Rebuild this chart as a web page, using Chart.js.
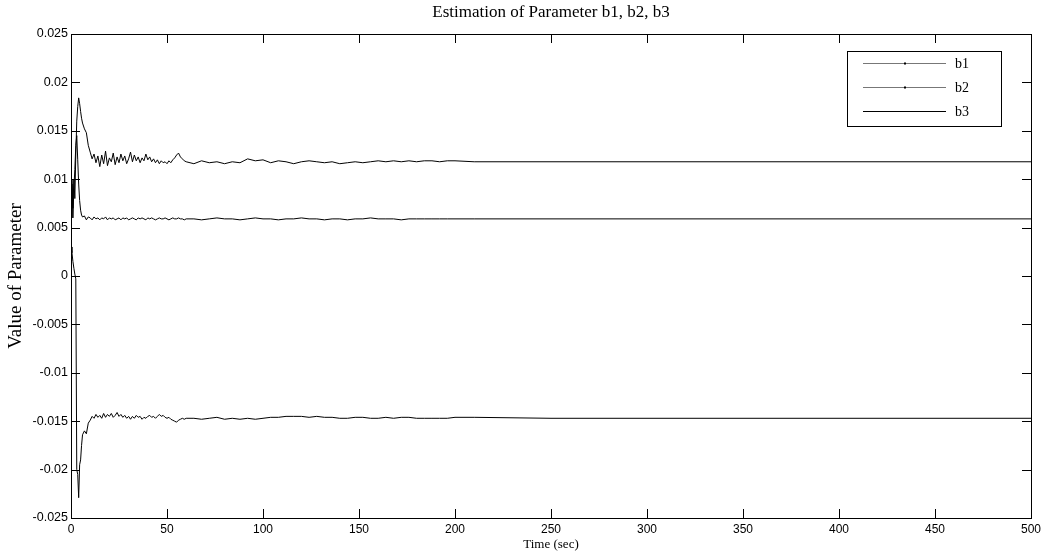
<!DOCTYPE html>
<html>
<head>
<meta charset="utf-8">
<script src="https://cdn.jsdelivr.net/npm/chart.js@4.4.1/dist/chart.umd.min.js"></script>
<style>
html, body { margin: 0; padding: 0; background: #fff; }
#wrap { width: 1041px; height: 552px; }
</style>
</head>
<body>
<div id="wrap"><canvas id="paramChart"></canvas></div>
<script>
// time axis (seconds), dense at the start where the estimates jump around
const timeSec = [
    0, 0.5, 1, 1.5, 2, 2.5, 3, 3.5, 4, 4.5, 5, 5.5, 6, 7, 8, 9,
    10, 11, 12, 13, 14, 15, 16, 17, 18, 19, 20, 21, 22, 23, 24, 25, 26, 27, 28, 29, 30, 31, 32, 33, 34, 35,
    36, 37, 38, 39, 40, 41, 42, 43, 44, 45, 46, 47, 48, 49, 50, 51, 52, 53, 54, 55, 56, 57, 58, 59, 60,
    64, 68, 72, 76, 80, 84, 88, 92, 96, 100, 104, 108, 112, 116, 120, 124, 128, 132,
    136, 140, 144, 148, 152, 156, 160, 164, 168, 172, 176, 180, 184, 188, 192, 196, 200,
    210, 250, 300, 350, 400, 450, 500
];

const b1Values = [
    0.0060, 0.0095, 0.0070, 0.0100, 0.0080, 0.0125, 0.0160, 0.0175, 0.0184, 0.0178, 0.0170, 0.0163, 0.0158, 0.0152, 0.0148, 0.0135,
    0.0128, 0.0121, 0.0126, 0.0117, 0.0124, 0.0113, 0.0125, 0.0116, 0.0129, 0.0114, 0.0122, 0.0118, 0.0127, 0.0115, 0.0123, 0.0117, 0.0126, 0.0119, 0.0124, 0.0116, 0.0121, 0.0128, 0.0118, 0.0125, 0.0119, 0.0123,
    0.0117, 0.0122, 0.0119, 0.0126, 0.0120, 0.0123, 0.0118, 0.0121, 0.0117, 0.0120, 0.0116, 0.0119, 0.0117, 0.0118, 0.0116, 0.0119, 0.0117, 0.0120, 0.0122, 0.0125, 0.0127, 0.0123, 0.0121, 0.0119, 0.0118,
    0.0116, 0.0119, 0.0117, 0.0118, 0.0116, 0.0118, 0.0117, 0.0121, 0.0119, 0.0120, 0.0117, 0.0119, 0.0118, 0.0116, 0.0118, 0.0119, 0.0118, 0.0117,
    0.0118, 0.0116, 0.0117, 0.0118, 0.0117, 0.0118, 0.0119, 0.0118, 0.0119, 0.0118, 0.0119, 0.0118, 0.0119, 0.0119, 0.0118, 0.0119, 0.0119,
    0.0118, 0.0118, 0.0118, 0.0118, 0.0118, 0.0118, 0.0118
];

const b2Values = [
    0.0070, 0.0100, 0.0060, 0.0090, 0.0110, 0.0135, 0.0145, 0.0120, 0.0095, 0.0078, 0.0068, 0.0063, 0.0061, 0.0062, 0.0058, 0.0061,
    0.0060, 0.0058, 0.0061, 0.0059, 0.0060, 0.0058, 0.0060, 0.0059, 0.0061, 0.0058, 0.0060, 0.0059, 0.0060, 0.0058, 0.0059, 0.0060, 0.0058, 0.0060, 0.0059, 0.0060, 0.0058, 0.0059, 0.0060, 0.0059, 0.0058, 0.0060,
    0.0059, 0.0060, 0.0059, 0.0058, 0.0060, 0.0059, 0.0060, 0.0059, 0.0058, 0.0059, 0.0060, 0.0059, 0.0059, 0.0060, 0.0059, 0.0058, 0.0059, 0.0060, 0.0059, 0.0059, 0.0060, 0.0059, 0.0059, 0.0058, 0.0059,
    0.0059, 0.0058, 0.0059, 0.0060, 0.0059, 0.0059, 0.0058, 0.0059, 0.0060, 0.0059, 0.0059, 0.0058, 0.0059, 0.0059, 0.0060, 0.0059, 0.0059, 0.0058,
    0.0059, 0.0059, 0.0058, 0.0059, 0.0059, 0.0060, 0.0059, 0.0059, 0.0059, 0.0058, 0.0059, 0.0059, 0.0059, 0.0059, 0.0059, 0.0059, 0.0059,
    0.0059, 0.0059, 0.0059, 0.0059, 0.0059, 0.0059, 0.0059
];

const b3Values = [
    0.0030, 0.0024, 0.0015, 0.0008, 0.0002, -0.0003, -0.0200, -0.0205, -0.0229, -0.0195, -0.0190, -0.0175, -0.0164, -0.0160, -0.0163, -0.0152,
    -0.0149, -0.0145, -0.0147, -0.0143, -0.0146, -0.0144, -0.0147, -0.0142, -0.0146, -0.0143, -0.0145, -0.0142, -0.0146, -0.0144, -0.0141, -0.0145, -0.0143, -0.0146, -0.0144, -0.0147, -0.0145, -0.0148, -0.0145, -0.0147, -0.0144, -0.0146,
    -0.0145, -0.0148, -0.0146, -0.0147, -0.0145, -0.0144, -0.0146, -0.0145, -0.0147, -0.0145, -0.0143, -0.0145, -0.0144, -0.0146, -0.0147, -0.0146, -0.0148, -0.0149, -0.0150, -0.0151, -0.0149, -0.0148, -0.0147, -0.0148, -0.0147,
    -0.0147, -0.0148, -0.0147, -0.0146, -0.0148, -0.0147, -0.0148, -0.0147, -0.0148, -0.0147, -0.0146, -0.0146, -0.0145, -0.0145, -0.0145, -0.0146, -0.0145, -0.0146,
    -0.0146, -0.0147, -0.0147, -0.0146, -0.0146, -0.0147, -0.0147, -0.0146, -0.0147, -0.0146, -0.0146, -0.0147, -0.0147, -0.0147, -0.0147, -0.0147, -0.0146,
    -0.0146, -0.0147, -0.0147, -0.0147, -0.0147, -0.0147, -0.0147
];

const seriesNames = ["b1", "b2", "b3"];
const legendMarkers = [true, true, false];

const xMin = 0, xMax = 500, xStep = 50;
const yMin = -0.025, yMax = 0.025, yStep = 0.005;

const serif = "'Liberation Serif', 'Times New Roman', serif";
const sans = "'Liberation Sans', Arial, sans-serif";

function toPoints(values) {
    return timeSec.map((t, i) => ({ x: t, y: values[i] }));
}

// box round the plot with MATLAB style ticks pointing inward
const boxTicks = {
    id: "boxTicks",
    afterDraw(chart) {
        const { ctx, chartArea: a, scales } = chart;
        const len = 9;
        ctx.save();
        ctx.strokeStyle = "#000";
        ctx.lineWidth = 1;
        ctx.beginPath();
        scales.x.ticks.forEach(t => {
            const px = Math.round(scales.x.getPixelForValue(t.value)) + 0.5;
            ctx.moveTo(px, a.bottom); ctx.lineTo(px, a.bottom - len);
            ctx.moveTo(px, a.top); ctx.lineTo(px, a.top + len);
        });
        scales.y.ticks.forEach(t => {
            const py = Math.round(scales.y.getPixelForValue(t.value)) + 0.5;
            ctx.moveTo(a.left, py); ctx.lineTo(a.left + len, py);
            ctx.moveTo(a.right, py); ctx.lineTo(a.right - len, py);
        });
        ctx.stroke();
        ctx.strokeRect(Math.round(a.left) + 0.5, Math.round(a.top) + 0.5,
            Math.round(a.right - a.left), Math.round(a.bottom - a.top));
        ctx.restore();
    }
};

const boxLegend = {
    id: "boxLegend",
    afterDraw(chart) {
        const ctx = chart.ctx;
        const left = 847, top = 51, w = 154, h = 75;
        ctx.save();
        ctx.fillStyle = "#fff";
        ctx.fillRect(left, top, w, h);
        ctx.strokeStyle = "#000";
        ctx.lineWidth = 1;
        ctx.strokeRect(left + 0.5, top + 0.5, w, h);
        ctx.font = "14px " + serif;
        ctx.textBaseline = "middle";
        chart.data.datasets.forEach((ds, i) => {
            const y = top + 12.5 + i * 24;
            ctx.strokeStyle = legendMarkers[i] ? "#777" : "#000";
            ctx.beginPath();
            ctx.moveTo(left + 16, y);
            ctx.lineTo(left + 99, y);
            ctx.stroke();
            if (legendMarkers[i]) {
                ctx.fillStyle = "#000";
                ctx.fillRect(left + 57, y - 1, 2, 2);
            }
            ctx.fillStyle = "#000";
            ctx.fillText(ds.label, left + 108, y + 1);
        });
        ctx.restore();
    }
};

new Chart(document.getElementById("paramChart"), {
    type: "line",
    data: {
        datasets: [
            { label: seriesNames[0], data: toPoints(b1Values) },
            { label: seriesNames[1], data: toPoints(b2Values) },
            { label: seriesNames[2], data: toPoints(b3Values) }
        ]
    },
    options: {
        responsive: true,
        maintainAspectRatio: false,
        animation: false,
        events: [],
        layout: { padding: { left: 0, right: 10, top: 0, bottom: 0 } },
        elements: {
            line: { borderColor: "#000", borderWidth: 1, tension: 0 },
            point: { radius: 0 }
        },
        plugins: {
            legend: { display: false },
            tooltip: { enabled: false },
            title: {
                display: true,
                fullSize: false,
                text: "Estimation of Parameter b1, b2, b3",
                color: "#000",
                font: { family: serif, size: 17, weight: "normal", lineHeight: 1.2 },
                padding: { top: 2, bottom: 11.6 }
            }
        },
        scales: {
            x: {
                type: "linear",
                min: xMin,
                max: xMax,
                afterFit(scale) {
                    scale.height = 34;
                    scale.paddingLeft = 0;
                    scale.paddingRight = 0;
                },
                grid: { display: false, drawTicks: false },
                border: { display: false },
                ticks: {
                    stepSize: xStep,
                    color: "#000",
                    padding: 4,
                    maxRotation: 0,
                    font: { family: sans, size: 12 }
                },
                title: {
                    display: true,
                    text: "Time (sec)",
                    color: "#000",
                    font: { family: serif, size: 13, lineHeight: 1.2 },
                    padding: 0
                }
            },
            y: {
                min: yMin,
                max: yMax,
                afterFit(scale) { scale.width = 71; },
                grid: { display: false, drawTicks: false },
                border: { display: false },
                ticks: {
                    stepSize: yStep,
                    color: "#000",
                    padding: 3,
                    font: { family: sans, size: 12.5 },
                    callback: v => String(Number(v.toFixed(3)))
                },
                title: {
                    display: true,
                    text: "Value of Parameter",
                    color: "#000",
                    font: { family: serif, size: 19, lineHeight: 1.2 },
                    padding: { top: 5, bottom: 0 }
                }
            }
        }
    },
    plugins: [boxTicks, boxLegend]
});
</script>
</body>
</html>
